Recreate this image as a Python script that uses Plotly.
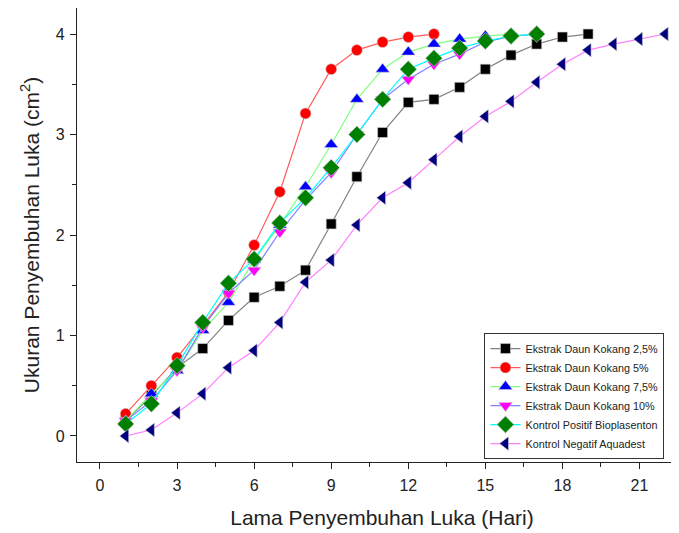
import plotly.graph_objects as go

days_25 = list(range(1, 20))
vals_25 = [0.15, 0.40, 0.68, 0.87, 1.15, 1.38, 1.49, 1.65, 2.11, 2.58, 3.02, 3.32, 3.35, 3.47, 3.65, 3.79, 3.90, 3.97, 4.00]

days_5 = list(range(1, 14))
vals_5 = [0.22, 0.50, 0.78, 1.10, 1.43, 1.90, 2.43, 3.21, 3.65, 3.84, 3.92, 3.97, 4.00]

days_75 = list(range(1, 17))
vals_75 = [0.15, 0.42, 0.65, 1.05, 1.33, 1.75, 2.10, 2.48, 2.90, 3.35, 3.65, 3.82, 3.90, 3.95, 3.98, 4.00]

days_10 = list(range(1, 18))
vals_10 = [0.15, 0.35, 0.65, 1.08, 1.42, 1.65, 2.03, 2.35, 2.62, 3.00, 3.35, 3.55, 3.70, 3.80, 3.92, 3.98, 4.00]

days_pos = list(range(1, 18))
vals_pos = [0.12, 0.32, 0.70, 1.13, 1.52, 1.76, 2.12, 2.37, 2.67, 3.00, 3.35, 3.65, 3.76, 3.86, 3.93, 3.98, 4.00]

days_neg = list(range(1, 23))
vals_neg = [0.00, 0.06, 0.23, 0.42, 0.68, 0.85, 1.13, 1.53, 1.75, 2.10, 2.37, 2.52, 2.75, 2.98, 3.18, 3.33, 3.52, 3.70, 3.84, 3.90, 3.95, 4.00]

series = [
    ("Ekstrak Daun Kokang 2,5%", days_25, vals_25, "square", "#000000", "#808080", 10),
    ("Ekstrak Daun Kokang 5%", days_5, vals_5, "circle", "#ff0000", "#ff5a5a", 11),
    ("Ekstrak Daun Kokang 7,5%", days_75, vals_75, "triangle-up", "#0000ff", "#80ff80", 12),
    ("Ekstrak Daun Kokang 10%", days_10, vals_10, "triangle-down", "#ff00ff", "#7f7fff", 12),
    ("Kontrol Positif Bioplasenton", days_pos, vals_pos, "diamond", "#008000", "#00ffff", 13),
    ("Kontrol Negatif Aquadest", days_neg, vals_neg, "triangle-left", "#000080", "#ff80ff", 12),
]

fig = go.Figure()
for name, xs, ys, sym, mcol, lcol, sz in series:
    fig.add_trace(go.Scatter(
        x=xs, y=ys, name=name, mode="lines+markers",
        line=dict(color=lcol, width=1.2),
        marker=dict(symbol=sym, color=mcol, size=sz, line=dict(color="#d0d0d0", width=0.6)),
    ))

axis_font = dict(family="Liberation Sans, Arial, sans-serif", size=16, color="#222")
fig.update_layout(
    width=679, height=533,
    margin=dict(l=69, r=0, t=0, b=79),
    paper_bgcolor="white", plot_bgcolor="white",
    font=dict(family="Liberation Sans, Arial, sans-serif", color="#222"),
    showlegend=True,
    legend=dict(
        x=0.668, y=0.284, xanchor="left", yanchor="top",
        bordercolor="#333", borderwidth=1, bgcolor="white",
        font=dict(size=10.8, color="#222"), tracegroupgap=0,
        itemwidth=30,
    ),
    xaxis=dict(
        range=[-0.895, 22.85], tick0=0, dtick=3, ticks="outside", ticklen=6,
        tickcolor="#222", showline=True, linecolor="#222", linewidth=1.3, mirror=True,
        showgrid=False, zeroline=False, tickfont=axis_font, ticklabelstandoff=3,
        minor=dict(ticks="outside", ticklen=4, dtick=1.5, tick0=0, tickcolor="#222", showgrid=False),
        title=dict(text="Lama Penyembuhan Luka (Hari)", font=dict(size=21, color="#222"), standoff=16),
        automargin=False,
    ),
    yaxis=dict(
        range=[-0.259, 4.259], tick0=0, dtick=1, ticks="outside", ticklen=6,
        tickcolor="#222", showline=True, linecolor="#222", linewidth=1.3, mirror=False,
        showgrid=False, zeroline=False, tickfont=axis_font, ticklabelstandoff=2,
        minor=dict(ticks="outside", ticklen=4, dtick=0.5, tick0=0, tickcolor="#222", showgrid=False),
        title=dict(text="Ukuran Penyembuhan Luka (cm<sup>2</sup>)", font=dict(size=21, color="#222"), standoff=10),
        automargin=False,
    ),
)

fig.write_html("out.html")
